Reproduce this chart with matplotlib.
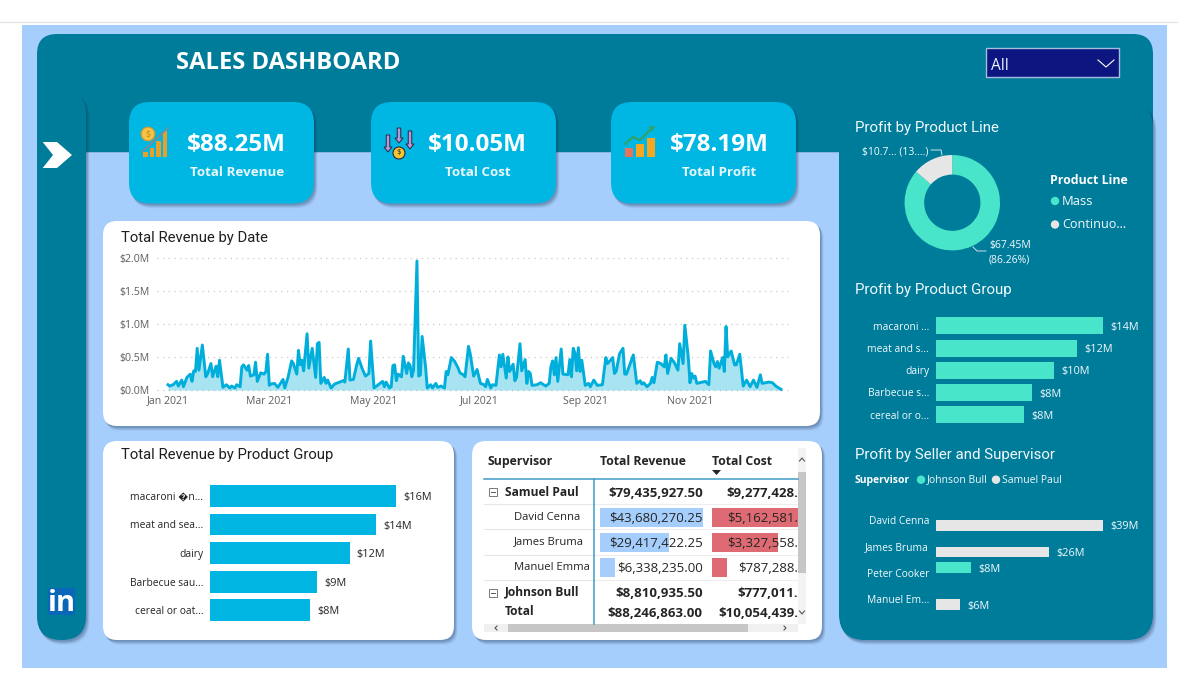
import matplotlib
matplotlib.use("Agg")
import matplotlib.pyplot as plt
import matplotlib.dates as mdates
import numpy as np
import pandas as pd
from matplotlib.patches import FancyBboxPatch, Rectangle, Circle, Polygon, FancyArrow

# ---------- data ----------
day_offsets = [0,1,3,5,6,8,9,11,13,14,15,16,17,18,20,22,23,25,26,28,29,30,32,34,36,37,39,40,42,43,44,46,47,48,50,51,52,54,56,57,58,59,60,62,64,67,68,70,72,73,75,76,77,78,79,81,82,84,86,87,88,89,91,92,93,95,97,99,102,103,105,106,108,110,111,113,115,117,118,120,122,125,126,127,129,130,131,132,133,134,136,137,139,140,141,142,143,145,146,147,148,150,151,153,154,156,157,159,161,162,163,165,167,169,
               170,172,173,175,176,178,180,182,184,185,186,188,189,191,193,194,195,197,198,199,201,202,203,205,206,208,209,210,211,212,215,217,220,222,223,224,225,226,227,229,230,233,234,235,236,237,238,239,240,241,243,245,246,248,250,253,255,256,259,260,261,263,265,266,267,271,273,275,276,277,279,281,282,283,285,287,289,290,291,293,295,297,298,300,301,303,304,305,306,307,308,313,315,316,318,319,320,321,323,324,325,326,328,330,331,333,335,337,339,341,343,345,346,350,352,354,357]
revenue_m = [.08,.06,.08,.13,.06,.15,.05,.19,.24,.13,.29,.28,.63,.30,.68,.20,.24,.40,.20,.36,.20,.45,.04,.08,.03,.06,.03,.08,.05,.35,.38,.30,.37,.21,.23,.42,.13,.26,.24,.28,.54,.07,.09,.10,.04,.16,.03,.20,.44,.40,.24,.60,.38,.45,.29,.85,.33,.63,.19,.70,.72,.10,.19,.10,.15,.03,.09,.11,.14,.12,.62,.15,.16,.39,.48,.33,.21,.25,.74,.03,.07,.13,.05,.12,.03,.05,.37,.38,.14,.24,.20,.51,.25,.41,.37,.20,.30,1.95,.21,.23,.81,.35,.03,.08,.03,.10,.04,.06,.03,.28,.23,.49,.43,.33,
             .26,.23,.20,.66,.55,.21,.31,.10,.08,.05,.16,.03,.08,.07,.53,.35,.54,.18,.50,.28,.39,.14,.19,.70,.29,.46,.10,.28,.25,.07,.08,.11,.06,.10,.35,.44,.23,.49,.13,.62,.24,.23,.46,.20,.63,.56,.29,.64,.28,.45,.07,.10,.05,.15,.07,.08,.49,.40,.49,.25,.28,.55,.63,.24,.24,.53,.10,.14,.09,.11,.05,.10,.19,.11,.42,.40,.35,.53,.25,.48,.41,.30,.70,.40,.98,.50,.11,.25,.18,.21,.10,.13,.08,.59,.40,.35,.43,.33,.49,.28,.96,.50,.59,.38,.38,.54,.06,.15,.05,.15,.04,.23,.10,.12,.11,.06,.01]
rev_ticks = [0, 0.5, 1.0, 1.5, 2.0]
rev_tick_labels = ["$0.0M", "$0.5M", "$1.0M", "$1.5M", "$2.0M"]

rev_groups = ["macaroni \ufffdn...", "meat and sea...", "dairy", "Barbecue sau...", "cereal or oat..."]
rev_group_vals = [16.0, 14.3, 12.0, 9.2, 8.6]
rev_group_labels = ["$16M", "$14M", "$12M", "$9M", "$8M"]

profit_groups = ["macaroni ...", "meat and s...", "dairy", "Barbecue s...", "cereal or o..."]
profit_group_vals = [14.0, 11.8, 9.9, 8.05, 7.4]
profit_group_labels = ["$14M", "$12M", "$10M", "$8M", "$8M"]

sellers = ["David Cenna", "James Bruma", "Peter Cooker", "Manuel Em..."]
johnson_vals = [np.nan, np.nan, 8.2, np.nan]
samuel_vals = [39.0, 26.4, np.nan, 5.6]
johnson_labels = ["", "", "$8M", ""]
samuel_labels = ["$39M", "$26M", "", "$6M"]

line_names = ["Mass", "Continuo..."]
line_vals = [67.45, 10.74]

kpi_values = ["$88.25M", "$10.05M", "$78.19M"]
kpi_names = ["Total Revenue", "Total Cost", "Total Profit"]

table_rows = ["Samuel Paul", "David Cenna", "James Bruma", "Manuel Emma", "Johnson Bull", "Total"]
table_rev = ["$79,435,927.50", "$43,680,270.25", "$29,417,422.25", "$6,338,235.00", "$8,810,935.50", "$88,246,863.00"]
table_cost = ["$9,277,428.", "$5,162,581.", "$3,327,558.", "$787,288.", "$777,011.", "$10,054,439."]
bar_rev = [43680270.25, 29417422.25, 6338235.00]
bar_cost = [5162581.0, 3327558.0, 787288.0]

# ---------- style ----------
W, H = 1200, 694
TEAL = "#007C9B"; BLUE = "#A5CEFD"; CYAN = "#00B7E3"; TURQ = "#48E5CB"; GREY = "#E6E6E6"
FONT = ["Open Sans", "DejaVu Sans"]
TITLE = ["Roboto", "DejaVu Sans"]
plt.rcParams["font.family"] = FONT
def pt(px): return px * 72 / 100

fig = plt.figure(figsize=(12, 6.94), dpi=100, facecolor="white")
bg = fig.add_axes([0, 0, 1, 1], zorder=0)
bg.set_xlim(0, W); bg.set_ylim(H, 0); bg.axis("off")

def rbox(x0, y0, x1, y1, r, color, z=1, alpha=1.0):
    bg.add_patch(FancyBboxPatch((x0 + r, y0 + r), x1 - x0 - 2 * r, y1 - y0 - 2 * r,
                 boxstyle=f"round,pad={r},rounding_size={r}", fc=color, ec="none", zorder=z, alpha=alpha))

def card(x0, y0, x1, y1, r, color, z=1):
    for i, a in zip((6, 5, 4, 3, 2), (0.05, 0.07, 0.09, 0.11, 0.13)):
        rbox(x0 + i * 0.5, y0 + i * 0.6, x1 + i * 0.6, y1 + i * 0.8, r, "#1c3350", z=z, alpha=a)
    rbox(x0, y0, x1, y1, r, color, z=z + 0.1)

def T(x, y, s, px, color="white", ha="left", weight="normal", fam=FONT, z=20):
    return bg.text(x, y + 0.1 * px, s, fontsize=pt(px), color=color, ha=ha, va="center", weight=weight, family=fam, zorder=z)

def child(x0, y0, x1, y1):
    ax = fig.add_axes([x0 / W, 1 - y1 / H, (x1 - x0) / W, (y1 - y0) / H], zorder=5)
    ax.patch.set_alpha(0)
    return ax

def value_labels(ax, bars, labels, txt):
    for t in ax.bar_label(bars, labels=labels, padding=5.2, fontsize=pt(10.9), color=txt):
        t.xyann = (t.xyann[0], -1.2)

# ---------- background ----------
bg.plot([0, 1177], [21.7, 21.7], color="#e2e2e2", lw=0.8, zorder=0.5)
bg.add_patch(Rectangle((22, 25), 1145, 643, fc=BLUE, ec="none", zorder=0.6))
rbox(37, 34, 1153, 200, 20, TEAL, z=1)
bg.add_patch(Rectangle((37, 152), 1130, 60, fc=BLUE, ec="none", zorder=1.05))
bg.add_patch(Rectangle((37, 152), 1116, 1.2, fc="#5a8fb8", ec="none", zorder=1.06, alpha=0.4))
card(839, 102, 1153, 640, 26, TEAL, z=1.2)
card(37, 90, 86, 640, 24, TEAL, z=1.4)
bg.add_patch(Rectangle((37, 90), 24, 30, fc=TEAL, ec="none", zorder=1.55))

# header
T(176, 60.5, "SALES DASHBOARD", 23.8, weight="bold")
bg.add_patch(Rectangle((986, 48), 133, 29, fc="#0C1580", ec="#A4BEDD", lw=1.0, zorder=3))
T(991, 64, "All", 15.5, color="#EAF2FF")
bg.plot([1098, 1106, 1114], [60, 67, 60], color="white", lw=0.8, zorder=4)

# sidebar icons
bg.add_patch(Polygon([(42.7, 142), (57, 142), (72, 155), (57, 168), (42.7, 168), (53, 155)], fc="white", ec="none", zorder=4))
rbox(48, 588, 75, 615, 2, "#0A66B8", z=4)
T(61.5, 601, "in", 29, ha="center", weight="bold")

# KPI cards
cards = [(129, 314), (371, 556), (611, 796)]
val_cx = [236.7, 477, 719]
name_cx = [236.7, 478, 719]
for (a, b), v, n, vc, nc in zip(cards, kpi_values, kpi_names, val_cx, name_cx):
    card(a, 102, b, 203.5, 21, CYAN, z=2)
    T(vc, 142.5, v, 24.2, ha="center", weight="bold")
    T(nc, 171.5, n, 13.4, ha="center", weight="bold", color="#E8F8FD")

# icon 1
for x, top in zip((143, 149.5, 156, 162.5), (152, 148, 141, 131)):
    bg.add_patch(Rectangle((x, top), 4.5, 156.5 - top, fc="#E5A12C", ec="none", zorder=6))
bg.plot([142, 152, 168], [152, 143, 128], color="#7f8c8d", lw=1.2, zorder=6)
bg.add_patch(Circle((148, 134), 6.8, fc="#F6C244", ec="#D79A28", lw=0.8, zorder=7))
T(148, 133, "$", 9, ha="center", color="#C98A1A", z=8)
# icon 2
for x, y0, y1 in ((388, 135, 152, ), (399, 128, 143), (410, 131, 149)):
    bg.add_patch(FancyArrow(x, y0, 0, y1 - y0, width=3.5, head_width=8, head_length=5, length_includes_head=True,
                            fc="#B49ADA", ec="#2c2640", lw=0.7, zorder=6))
bg.add_patch(Circle((399, 153), 6, fc="#F7C52E", ec="#2c2640", lw=0.8, zorder=7))
T(399, 152, "$", 8, ha="center", color="#2c2640", z=8)
# icon 3
for x, top, c in ((625, 148, "#E8735C"), (636, 144, "#F5A623"), (647, 138, "#F5A623")):
    bg.add_patch(Rectangle((x, top), 7.5, 156.5 - top, fc=c, ec="none", zorder=6))
bg.plot([625, 633, 640, 653], [144, 137, 140, 127], color="#2FA36B", lw=1.6, zorder=6)
bg.add_patch(Polygon([(655, 126), (648, 127), (652.5, 132)], fc="#2FA36B", ec="none", zorder=6))

# white cards
card(103, 221, 820, 426, 14, "white", z=2)
card(103, 441, 454, 640, 14, "white", z=2)
card(472, 441, 822, 640, 14, "white", z=2)

# ---------- line chart ----------
T(121, 236.5, "Total Revenue by Date", 14.9, color="#1f1f1f", fam=TITLE)
dates = pd.Timestamp("2021-01-01") + pd.to_timedelta(day_offsets, unit="D")
ax = child(157, 257.7, 788, 390)
ax.fill_between(dates, revenue_m, 0, color="#00AEDB", alpha=0.34, lw=0)
ax.plot(dates, revenue_m, color="#00AEDB", lw=2.1, solid_joinstyle="round", clip_on=False)
x0 = mdates.date2num(pd.Timestamp("2021-01-01"))
ax.set_xlim(x0 - 11 / 1.717, x0 + 620 / 1.717)
ax.set_ylim(0, 2.0)
ax.set_yticks(rev_ticks, rev_tick_labels)
ax.set_xticks([mdates.date2num(pd.Timestamp(f"2021-{m:02d}-01")) for m in (1, 3, 5, 7, 9, 11)])
ax.xaxis.set_major_formatter(mdates.DateFormatter("%b %Y"))
ax.tick_params(length=0, labelsize=pt(10.5), labelcolor="#605E5C")
ax.tick_params(axis="y", pad=5.5)
ax.tick_params(axis="x", pad=4)
ax.grid(axis="y", color="#C8C8C8", ls=(0, (1, 3.5)), lw=0.9, clip_on=False)
ax.set_axisbelow(True)
for s in ax.spines.values(): s.set_visible(False)

def hbars(ax, cats, vals, labels, color, h, xmax, txt):
    b = ax.barh(cats, vals, height=h, color=color)
    value_labels(ax, b, labels, txt)
    ax.set_xlim(0, xmax)
    ax.set_ylim(len(cats) - 0.5, -0.5)
    ax.xaxis.set_visible(False)
    ax.tick_params(axis="y", length=0, pad=5, labelsize=pt(10.3), labelcolor=txt)
    for s in ax.spines.values(): s.set_visible(False)

# ---------- revenue by group ----------
T(121, 453.5, "Total Revenue by Product Group", 14.9, color="#1f1f1f", fam=TITLE)
ax = child(210.3, 481.5, 396, 624.6)
hbars(ax, rev_groups, rev_group_vals, rev_group_labels, "#00B5E2", 0.76, 16.0, "#252423")

# ---------- table ----------
tc = "#252423"
T(488, 460, "Supervisor", 12.3, color=tc, weight="bold")
T(600, 460, "Total Revenue", 12.3, color=tc, weight="bold")
T(712, 460, "Total Cost", 12.3, color=tc, weight="bold")
bg.add_patch(Polygon([(712, 470), (721, 470), (716.5, 475)], fc="#252423", ec="none", zorder=6))
row_y = [491, 516, 540.5, 566, 591, 610]
val_y = [492, 517, 542, 567, 592, 612]
bar_y = [517.2, 542.5, 567.5]
name_x = [505, 514, 514, 514, 505, 505]
# data bars
rev_scale = 102.7 / max(bar_rev)
cost_scale = 66.3 / bar_cost[1]
for yy, r, c in zip(bar_y, bar_rev, bar_cost):
    bg.add_patch(Rectangle((600, yy - 9.5), r * rev_scale, 19, fc="#A5CEFD", ec="none", zorder=5))
    bg.add_patch(Rectangle((711.7, yy - 9.5), min(c * cost_scale, 86), 19, fc="#DE6A73", ec="none", zorder=5))
for i, (n, yn, yv, xn, r, c) in enumerate(zip(table_rows, row_y, val_y, name_x, table_rev, table_cost)):
    bold = i in (0, 4, 5)
    T(xn, yn, n, 11.3 if not bold else 12.0, color=tc, weight="bold" if bold else "normal")
    T(702.7, yv, r, 13.3, color=tc, ha="right", weight="bold" if bold else "normal")
    T(798, yv, c, 13.3, color=tc, ha="right", weight="bold" if bold else "normal")
for y in (504, 529, 555, 580):
    bg.plot([484, 594], [y, y], color="#E6E6E6", lw=0.8, zorder=4)
    bg.plot([594, 798], [y, y], color="#EDEDED", lw=0.8, zorder=4)
bg.plot([484, 798], [479, 479], color="#3F9BC8", lw=1.1, zorder=6)
bg.plot([594, 594], [479, 624], color="#3F9BC8", lw=1.1, zorder=6)
for yb in (491.5, 592.5):
    bg.add_patch(Rectangle((489, yb - 3.5), 7.5, 7.5, fc="white", ec="#777777", lw=0.7, zorder=6))
    bg.plot([490.5, 495], [yb + 0.2, yb + 0.2], color="#555555", lw=0.7, zorder=7)
bg.add_patch(Rectangle((798, 448), 8, 176, fc="#F3F3F3", ec="none", zorder=4))
bg.add_patch(Rectangle((798, 472), 8, 101, fc="#C6C6C6", ec="none", zorder=5))
bg.add_patch(Rectangle((484, 624), 314, 8, fc="#F0F0F0", ec="none", zorder=4))
bg.add_patch(Rectangle((508, 624), 240, 8, fc="#C6C6C6", ec="none", zorder=5))
for pts in ([(799.5, 461), (802, 458), (804.5, 461)], [(799.5, 611), (802, 614), (804.5, 611)],
            [(497, 626), (495, 628), (497, 630)], [(784, 626), (786, 628), (784, 630)]):
    xs, ys = zip(*pts)
    bg.plot(xs, ys, color="#555555", lw=0.8, zorder=7)

# ---------- right panel ----------
T(855, 126.5, "Profit by Product Line", 15.0, fam=TITLE, color="#F2FAFC")
ax = child(952.3 - 47.7, 202.7 - 47.7, 952.3 + 47.7, 202.7 + 47.7)
ax.pie(line_vals, colors=[TURQ, GREY], startangle=90, counterclock=False, radius=1.0,
       wedgeprops=dict(width=0.41, linewidth=0))
ax.set_xlim(-1, 1); ax.set_ylim(-1, 1)
T(862, 150.5, "$10.7... (13....)", 10.4, color="#F2FAFC")
T(989, 244.5, "$67.45M", 10.4, color="#F2FAFC")
T(989, 259, "(86.26%)", 10.4, color="#F2FAFC")
bg.plot([931, 941, 942], [150, 150, 155], color="#CFE3EA", lw=0.7, zorder=4)
bg.plot([973, 977, 986], [247, 251, 251], color="#CFE3EA", lw=0.7, zorder=4)
T(1050, 179.5, "Product Line", 12.4, weight="bold")
bg.add_patch(Circle((1055, 201), 4.2, fc=TURQ, ec="none", zorder=6))
T(1062, 200, line_names[0], 13, color="#F2FAFC")
bg.add_patch(Circle((1055, 224.5), 4.2, fc=GREY, ec="none", zorder=6))
T(1062, 223.5, line_names[1], 12.6, color="#F2FAFC")

T(855, 288.5, "Profit by Product Group", 15.0, fam=TITLE, color="#F2FAFC")
ax = child(936, 314.7, 1103, 425.8)
hbars(ax, profit_groups, profit_group_vals, profit_group_labels, TURQ, 0.765, 14.0, "#F2FAFC")

T(855, 453.5, "Profit by Seller and Supervisor", 15.0, fam=TITLE, color="#F2FAFC")
T(855, 479, "Supervisor", 10.4, weight="bold")
bg.add_patch(Circle((921, 479.7), 4.2, fc=TURQ, ec="none", zorder=6))
T(927, 479, "Johnson Bull", 10.4, color="#F2FAFC")
bg.add_patch(Circle((996, 479.7), 4.2, fc=GREY, ec="none", zorder=6))
T(1002, 479, "Samuel Paul", 10.4, color="#F2FAFC")
ax = child(936, 506.8, 1103, 612.7)
pos = np.arange(len(sellers))
b1 = ax.barh(pos - 0.2, johnson_vals, height=0.4, color=TURQ, label="Johnson Bull")
b2 = ax.barh(pos + 0.2, samuel_vals, height=0.4, color=GREY, label="Samuel Paul")
value_labels(ax, b1, johnson_labels, "#F2FAFC")
value_labels(ax, b2, samuel_labels, "#F2FAFC")
ax.set_yticks(pos, sellers)
ax.set_xlim(0, 39.0); ax.set_ylim(len(sellers) - 0.5, -0.5)
ax.xaxis.set_visible(False)
ax.tick_params(axis="y", length=0, pad=5, labelsize=pt(10.3), labelcolor="#F2FAFC")
for s in ax.spines.values(): s.set_visible(False)

fig.savefig("out.png", dpi=100, facecolor="white")
